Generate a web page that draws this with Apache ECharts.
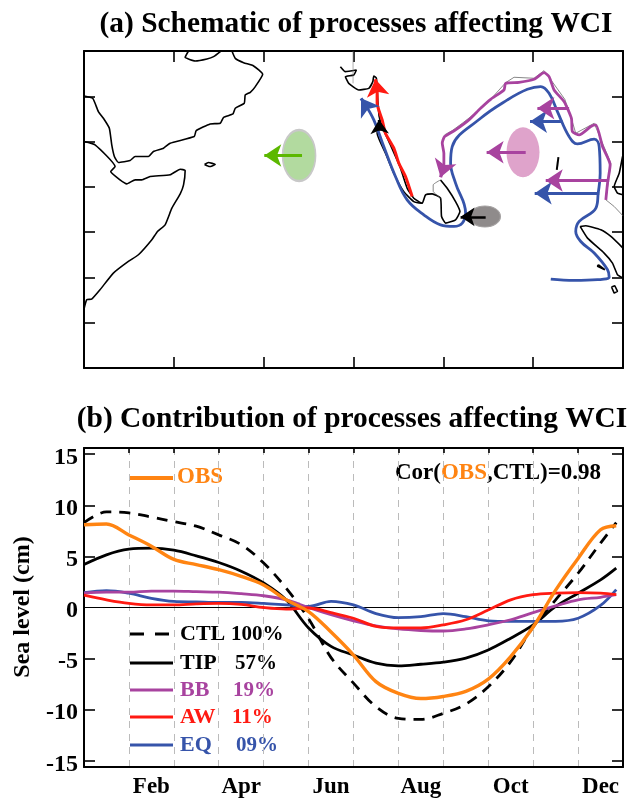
<!DOCTYPE html>
<html><head><meta charset="utf-8">
<style>html,body{margin:0;padding:0;background:#fff}#c{width:629px;height:801px}</style>
<script src="https://cdn.jsdelivr.net/npm/echarts@6/dist/echarts.min.js"></script>
</head><body><div id="c"></div>
<script>
// ---- panel (b) data: month position (0 = start of Jan, 12 = end of Dec), sea level in cm
const months=[0,.5,1,1.5,2,2.5,3,3.5,4,4.5,5,5.5,6,6.5,7,7.5,8,8.5,9,9.5,10,10.5,11,11.5,11.85];
const monthLabels=["","Feb","","Apr","","Jun","","Aug","","Oct","","Dec"];
const yTicks=[-15,-10,-5,0,5,10,15];
const OBS=[8.1,8.17,7.1,6.0,4.7,4.2,3.7,3.05,2.2,0.75,-0.4,-2.4,-4.65,-7.25,-8.4,-8.9,-8.7,-8.2,-7.0,-4.8,-1.9,1.7,4.8,7.6,8.0];
const CTL=[8.3,9.35,9.25,8.85,8.4,7.95,7.1,6.15,4.35,1.9,-1.1,-4.9,-7.4,-9.7,-10.85,-10.95,-10.35,-9.45,-7.75,-5.3,-1.9,0.75,3.35,6.3,8.3];
const TIP=[4.2,5.15,5.7,5.8,5.6,5.05,4.4,3.55,2.4,0.75,-2.0,-3.8,-4.65,-5.45,-5.7,-5.55,-5.35,-4.95,-4.15,-3.0,-1.7,0.1,1.4,2.7,3.85];
const BB=[1.4,1.5,1.5,1.6,1.6,1.55,1.5,1.35,1.15,0.75,0,-0.7,-1.3,-1.8,-2.1,-2.25,-2.3,-2.1,-1.7,-1.2,-0.5,0.15,0.75,1.0,1.25];
const AW=[1.2,0.75,0.4,0.25,0.25,0.35,0.4,0.3,0,-0.15,-0.05,-0.5,-1.05,-1.85,-2.0,-2.0,-1.7,-1.2,-0.25,0.75,1.25,1.4,1.45,1.4,1.25];
const EQ=[1.45,1.65,1.4,0.9,0.6,0.55,0.5,0.5,0.4,0.25,0.1,0.6,0.25,-0.6,-1.0,-0.9,-0.6,-0.9,-1.3,-1.35,-1.35,-1.35,-1.05,0.2,1.75];

// ---- panel (a) data: [longitude E, latitude N]
const gulfCoast=[[51.63,25],[51.26,24.3],[52.38,23.9],[53.68,24.12],[54.42,24.38],[55.24,25]];
const arabiaCoast=[[56.47,25],[56.84,24.19],[57.77,23.71],[58.88,23.35],[59.89,22.43],[59.07,21.07],[58.51,20.44],[57.95,20.15],[57.84,19.23],[56.84,18.68],[56.58,18.05],[55.54,17.68],[55.17,17.02],[54.05,16.95],[52.49,16.21],[52.27,15.55],[49.59,14.82],[48.85,14.27],[47.73,13.9],[47.17,13.35],[45.69,13.35],[45.13,12.91],[43.83,12.69],[43.38,13.35],[43.09,14.63],[42.82,16.47],[42.16,17.57],[41.6,18.31],[40.97,19.78],[40,20.04]];
const africaCoast=[[40,15],[41.23,14.63],[43.46,12.24],[42.97,11.69],[44.01,10.77],[44.76,10.33],[45.69,10.77],[46.43,10.77],[47.36,11.14],[49.59,11.33],[50.71,11.95],[51.26,11.8],[51.08,10.22],[50.71,9.23],[49.78,7.65],[49.03,5.81],[48.18,5.08],[47.55,4.16],[46.06,2.5],[44.94,1.77],[43.27,0.48],[41.78,-1.36],[40.85,-2.39],[40.3,-2.46],[40,-3.49]];
const socotra=[[53.42,12.47],[53.86,12.69],[54.61,12.47],[53.98,12.24],[53.42,12.47]];
const indiaWest=[[68.54,23.27],[69.1,22.72],[70.32,22.9],[70.03,22.35],[69.1,22.17],[69.47,21.43],[70.58,20.7],[71.7,20.88],[72.15,21.62],[72.26,22.24],[72.55,21.99],[72.7,19.6],[72.85,17.8],[73.19,16.64],[74.11,14.62],[75.23,12.05],[75.98,9.84],[76.71,8.74],[77.65,8.19],[78.02,9.12],[78.76,9.23],[79.69,8.75],[79.8,6.73],[80.25,6],[81.36,6.36],[81.85,7.28],[81.36,8.38],[80.43,9.85],[79.69,10.77]];
const innerCoast=[[72.85,17.2],[72.63,15.92],[73.56,13.71],[74.48,11.5],[75.6,9.47],[76.71,8.37],[77.65,8.19]];
const palk=[[79.69,10.77],[78.87,10.22],[78.87,9.52],[79.69,8.75]];
const bayCoast=[[80.14,15.74],[80.99,16.21],[82.11,17.02],[83.78,18.31],[85.27,19.67],[86.94,21.51],[87.87,22.1],[90.1,21.99],[91.21,22.83],[91.77,22.1],[93.52,19.67],[94.19,17.76],[94.74,15.92],[96.79,17.02],[98.65,12.61],[98.09,8.57],[99.02,7.83],[100,6.8]];
const sumatraN=[[95.23,5.63],[95.86,5.7],[97.53,5.26],[98.65,4.52],[100,3.24]];
const sumatraS=[[95.23,5.63],[96.05,4.34],[97.9,2.69],[98.83,1.58],[99.39,0.3],[100,-0.07]];
const isleA=[[97.24,1.4],[97.98,0.85],[97.83,0.66],[97.16,1.22],[97.24,1.4]];
const isleB=[[98.72,-1.06],[99.09,-0.92],[99.39,-1.54],[99.02,-1.73],[98.72,-1.06]];
const andaman=[[92.81,13.27],[92.63,11.88]];
const malayEdge=[[99.95,13.35],[99.58,11.51],[99.02,10.04],[99.39,9.3],[100,9.12]];
const meridian=[[69.95,25],[69.95,21.43]];
const bluePath=[[91.96,-0.18],[94.56,-0.33],[97.16,-0.25],[98.46,0.04],[98.28,0.85],[96.79,2.69],[95.3,3.97],[94.74,5.08],[95.12,6.18],[96.98,7.65],[97.24,9.3],[97.46,11.51],[97.35,14.45],[96.79,15.26],[94.93,14.74],[94,15.55],[92.7,18.31],[91.77,20.33],[90.84,21.07],[89.36,20.77],[87.13,19.6],[84.15,17.57],[80.99,14.45],[80.81,12.61],[81.36,10.41],[82.48,7.1],[82.11,6],[81.18,5.63],[79.69,5.81],[77.83,6.91],[75.97,8.57],[74.67,11.14],[73.37,14.45],[72.26,17.39],[71.33,19.04]];
const purplePath=[[98.09,8.57],[98.28,10.41],[98.57,12.43],[97.72,14.45],[96.98,16.84],[96.42,16.66],[95.12,15.74],[94.37,16.1],[94.26,17.57],[93.44,19.41],[92.33,20.7],[91.77,22.17],[91.21,22.61],[90.1,21.88],[88.43,21.54],[86.94,21.43],[86.75,20.7],[85.27,19.67],[84.15,18.68],[82.85,17.39],[81.36,16.29],[80.14,15.55],[79.88,14.82],[80.06,13.71],[80.06,12.24]];
const redPath=[[76.53,8.94],[75.79,11.14],[75.05,12.61],[74.49,14.27],[73.56,15.92],[73.19,17.39],[72.63,19.23],[72.63,20.7]];
const arrowsBlue=[[[71.33,19.04],[70.84,19.78]],[[93.26,17.21],[89.65,17.21]],[[97.35,9.3],[90.17,9.3]]];
const arrowsPurple=[[[80.06,12.24],[79.69,11.07]],[[94,18.68],[90.47,18.68]],[[89.17,13.82],[84.82,13.82]],[[98.46,10.7],[91.4,10.7]]];
const arrowsGreen=[[[64.27,13.46],[60.07,13.46]]];
const arrowsRed=[[[72.63,20.7],[72.44,21.88]]];
const arrowsBlack=[[[84.71,6.69],[81.92,6.69]],[[72.9,16.2],[72.85,17.4]]];
const patchGreen=[63.94,13.46], patchPink=[88.87,13.82], patchGrey=[84.63,6.73];

const FONT='"Liberation Serif"', C={obs:'#ff8412',bb:'#a8439f',aw:'#ff1a12',eq:'#3654aa',green:'#5cb800'};
const chart=echarts.init(document.getElementById('c'),null,{renderer:'canvas'});
const zip=a=>months.map((m,i)=>[m,a[i]]);
const mapLine=(d,w=1.6,c='#000',smooth=.15)=>({type:'line',xAxisIndex:0,yAxisIndex:0,data:d,smooth,showSymbol:false,symbol:'none',silent:true,lineStyle:{color:c,width:w},z:2,animation:false});
const arrows=(d,c,w=3.2,s=17)=>({type:'lines',coordinateSystem:'cartesian2d',xAxisIndex:0,yAxisIndex:0,data:d.map(p=>({coords:p})),symbol:['none','arrow'],symbolSize:s,lineStyle:{color:c,width:w,opacity:1,curveness:0},silent:true,z:5,animation:false});
const patch=(p,w,h,c,bc,bw)=>({type:'scatter',xAxisIndex:0,yAxisIndex:0,data:[p],symbol:'circle',symbolSize:[w,h],itemStyle:{color:c,opacity:1,borderColor:bc,borderWidth:bw},silent:true,z:3,animation:false});
const curve=(d,c,w=2.8,dash)=>({type:'line',xAxisIndex:2,yAxisIndex:2,data:zip(d),smooth:.35,showSymbol:false,symbol:'none',silent:true,lineStyle:{color:c,width:w,type:dash||'solid'},z:4,animation:false});
const line={onZero:false,lineStyle:{color:'#000',width:2}};
const tick=(l=11)=>({show:true,inside:true,length:l,lineStyle:{color:'#000',width:1.6}});

const legendRows=[
 ['CTL','100%','#000',180,231,634],['TIP','57%','#000',180,235,663],['BB','19%',C.bb,180,233,690],
 ['AW','11%',C.aw,180,232,717],['EQ','09%',C.eq,180,236,745]];
const txt=(t,x,y,c,fs=21,extra={})=>({type:'text',x,y,silent:true,style:Object.assign({text:t,fill:c,font:`bold ${fs}px ${FONT}`,textVerticalAlign:'middle'},extra)});
const key=(y,c,dash,w=3.2)=>({type:'line',silent:true,shape:{x1:130,y1:y,x2:173,y2:y},style:{stroke:c,lineWidth:w,lineDash:dash||null}});
const graphics=[
 txt('(a) Schematic of processes affecting WCI',356,24,'#000',29.4,{textAlign:'center'}),
 txt('(b) Contribution of processes affecting WCI',352,419,'#000',29.4,{textAlign:'center'}),
 key(478,C.obs,null,4),txt('OBS',177,477,C.obs,23),
 {type:'text',x:395,y:473,silent:true,style:{text:'{a|Cor(}{b|OBS}{a|,CTL)=0.98}',textVerticalAlign:'middle',rich:{a:{fill:'#000',font:`bold 23px ${FONT}`},b:{fill:C.obs,font:`bold 23px ${FONT}`}}}},
 {type:'text',x:23,y:607,rotation:Math.PI/2,silent:true,style:{text:'Sea level (cm)',fill:'#000',font:`bold 24px ${FONT}`,textAlign:'center',textVerticalAlign:'middle'}}
];
legendRows.forEach((r,i)=>{
 graphics.push(key(r[5],r[2],i===0?[14,11]:null));
 graphics.push(txt(r[0],r[3],r[5],r[2],22));
 graphics.push(txt(r[1],r[4],r[5]+1,r[2],21));
});

chart.setOption({
 animation:false,
 grid:[{left:84,top:51,width:539,height:317},{left:84,top:448,width:539,height:319}],
 xAxis:[
  {type:'value',gridIndex:0,position:'bottom',min:40,max:100,interval:10,axisLine:line,axisTick:tick(),axisLabel:{show:false},splitLine:{show:false}},
  {type:'value',gridIndex:0,position:'top',min:40,max:100,interval:10,axisLine:line,axisTick:tick(),axisLabel:{show:false},splitLine:{show:false}},
  {type:'value',gridIndex:1,min:0,max:12,interval:1,show:false},
  {type:'category',gridIndex:1,position:'bottom',data:monthLabels,boundaryGap:true,axisLine:line,axisTick:{show:false},
   axisLabel:{interval:0,margin:9,color:'#000',fontFamily:FONT,fontWeight:'bold',fontSize:23},
   splitLine:{show:true,interval:0,lineStyle:{color:'#bbb',type:[7,6],width:1}}},
  {type:'category',gridIndex:1,position:'top',data:monthLabels,boundaryGap:true,axisLine:line,axisTick:Object.assign(tick(5),{interval:0}),axisLabel:{show:false},splitLine:{show:false}}
 ],
 yAxis:[
  {type:'value',gridIndex:0,position:'left',min:-10,max:25,interval:5,axisLine:line,axisTick:tick(),axisLabel:{show:false},splitLine:{show:false}},
  {type:'value',gridIndex:0,position:'right',min:-10,max:25,interval:5,axisLine:line,axisTick:tick(),axisLabel:{show:false},splitLine:{show:false}},
  {type:'value',gridIndex:1,position:'left',min:-15.6,max:15.6,axisLine:line,
   axisTick:Object.assign(tick(),{customValues:yTicks.filter(v=>v!==0)}),
   axisLabel:{customValues:yTicks,margin:6,formatter:'{v|{value}}',rich:{v:{padding:[7,0,0,0],color:'#000',fontFamily:FONT,fontWeight:'bold',fontSize:24}}},splitLine:{show:false}},
  {type:'value',gridIndex:1,position:'right',min:-15.6,max:15.6,axisLine:line,
   axisTick:Object.assign(tick(),{customValues:yTicks.filter(v=>v!==0)}),axisLabel:{show:false},splitLine:{show:false}}
 ],
 series:[
  mapLine(gulfCoast),mapLine(arabiaCoast),mapLine(africaCoast),mapLine(socotra),mapLine(indiaWest),mapLine(innerCoast),mapLine(palk,.7,'#555'),
  mapLine(bayCoast,.7,'#555',0),mapLine(sumatraN),mapLine(sumatraS),mapLine(isleA,1.6,'#000',0),mapLine(isleB,1.6,'#000',0),mapLine(andaman,2),mapLine(malayEdge),mapLine(meridian,.6,'#777',0),
  patch(patchGreen,33,51,'#b2da9f','#c8c8c8',2),patch(patchPink,33,50,'#dfa3cb','#dfa3cb',0),patch(patchGrey,31,21,'#8f8b8b','#a5a2a2',1),
  mapLine(bluePath,2.8,C.eq,.4),mapLine(purplePath,2.8,C.bb,.2),mapLine(redPath,3,C.aw,.2),
  arrows(arrowsBlue,C.eq),arrows(arrowsPurple,C.bb),arrows(arrowsGreen,C.green),arrows(arrowsRed,C.aw),arrows(arrowsBlack,'#000',2.6,14),
  curve(CTL,'#000',2.8,[11,8]),curve(TIP,'#000'),curve(EQ,C.eq),curve(BB,C.bb),curve(AW,C.aw),curve(OBS,C.obs,3.4),
  {type:'line',xAxisIndex:2,yAxisIndex:2,data:[[0,0],[12,0]],showSymbol:false,symbol:'none',silent:true,lineStyle:{color:'#000',width:1},z:3,animation:false}
 ],
 graphic:graphics
});
</script></body></html>
